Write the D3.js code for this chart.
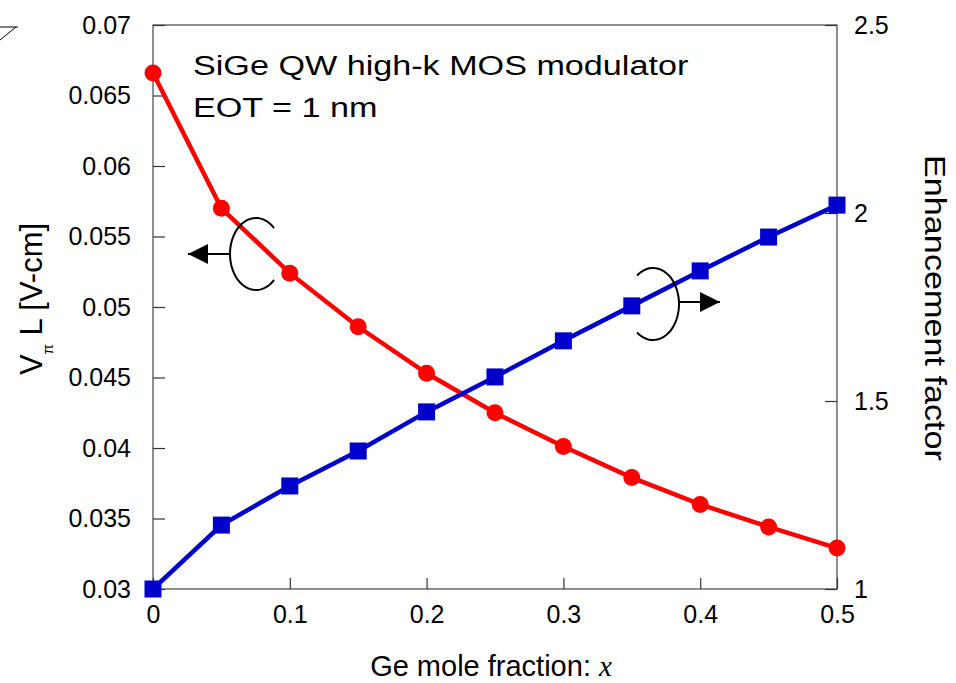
<!DOCTYPE html>
<html>
<head>
<meta charset="utf-8">
<script src="https://cdn.jsdelivr.net/npm/d3@7"></script>
<style>
  body { margin: 0; background: #fff; }
  text { font-family: "Liberation Sans", Arial, sans-serif; fill: #000; }
</style>
</head>
<body>
<div id="chart"></div>
<script>
// data
var geFraction = [0, 0.05, 0.1, 0.15, 0.2, 0.25, 0.3, 0.35, 0.4, 0.45, 0.5];
var vpiL = [0.0666, 0.0570, 0.0524, 0.0486, 0.0453, 0.0425, 0.0401, 0.0379, 0.0360, 0.0344, 0.0329];
var enhancement = [1.0, 1.17, 1.274, 1.367, 1.471, 1.564, 1.660, 1.753, 1.846, 1.936, 2.021];
var xTicks = [0, 0.1, 0.2, 0.3, 0.4, 0.5];
var yLeftTicks = [0.03, 0.035, 0.04, 0.045, 0.05, 0.055, 0.06, 0.065, 0.07];
var yRightTicks = [1, 1.5, 2, 2.5];

var W = 956, H = 683;
var margin = {top: 25, right: 119, bottom: 94, left: 153};
var width = W - margin.left - margin.right,
    height = H - margin.top - margin.bottom;

var svg = d3.select("#chart").append("svg")
    .attr("width", W).attr("height", H);

var x = d3.scaleLinear().domain([0, 0.5]).range([0, width]);
var yL = d3.scaleLinear().domain([0.03, 0.07]).range([height, 0]);
var yR = d3.scaleLinear().domain([1, 2.5]).range([height, 0]);

var g = svg.append("g")
    .attr("transform", "translate(" + margin.left + "," + margin.top + ")");

// frame
g.append("rect")
    .attr("width", width).attr("height", height)
    .attr("fill", "none").attr("stroke", "#444").attr("stroke-width", 1.2);

var fmt = function(d) { return String(+d.toFixed(3)); };

var xAxis = d3.axisBottom(x).tickValues(xTicks).tickSize(-11).tickPadding(16).tickFormat(fmt);
var yAxisL = d3.axisLeft(yL).tickValues(yLeftTicks).tickSize(-12).tickPadding(22).tickFormat(fmt);
var yAxisR = d3.axisRight(yR).tickValues(yRightTicks).tickSize(-12).tickPadding(17).tickFormat(fmt);

function styleAxis(sel) {
  sel.select(".domain").remove();
  sel.selectAll(".tick line").attr("stroke", "#333").attr("stroke-width", 1.2);
  sel.selectAll(".tick text").style("font-size", "25px").attr("fill", "#000");
}

g.append("g").attr("transform", "translate(0," + height + ")").call(xAxis).call(styleAxis);
g.append("g").call(yAxisL).call(styleAxis);
g.append("g").attr("transform", "translate(" + width + ",0)").call(yAxisR).call(styleAxis);

// red series (left axis)
var redLine = d3.line().x(function(d, i) { return x(geFraction[i]); }).y(function(d) { return yL(d); });
g.append("path").datum(vpiL)
    .attr("d", redLine).attr("fill", "none").attr("stroke", "#ff0000").attr("stroke-width", 4.5);
g.selectAll(".red").data(vpiL).enter().append("circle")
    .attr("cx", function(d, i) { return x(geFraction[i]); })
    .attr("cy", function(d) { return yL(d); })
    .attr("r", 8.5).attr("fill", "#ff0000");

// blue series (right axis)
var blueLine = d3.line().x(function(d, i) { return x(geFraction[i]); }).y(function(d) { return yR(d); });
g.append("path").datum(enhancement)
    .attr("d", blueLine).attr("fill", "none").attr("stroke", "#0000cc").attr("stroke-width", 4.5);
g.selectAll(".blue").data(enhancement).enter().append("rect")
    .attr("x", function(d, i) { return x(geFraction[i]) - 8.5; })
    .attr("y", function(d) { return yR(d) - 8.5; })
    .attr("width", 17).attr("height", 17).attr("fill", "#0000cc");

// annotation arrows
svg.append("defs").append("marker")
    .attr("id", "head").attr("viewBox", "0 0 10 10")
    .attr("refX", 10).attr("refY", 5)
    .attr("markerWidth", 20).attr("markerHeight", 20).attr("markerUnits", "userSpaceOnUse")
    .attr("orient", "auto")
  .append("path").attr("d", "M0,0L10,5L0,10Z").attr("fill", "#000");

function ellipseArc(cx, cy, rx, ry, a0, a1) {
  var pts = d3.range(0, 61).map(function(k) {
    var a = a0 + (a1 - a0) * k / 60;
    return [cx + rx * Math.cos(a), cy + ry * Math.sin(a)];
  });
  return d3.line()(pts);
}

// left pointer
svg.append("path").attr("d", ellipseArc(256, 254, 26, 36, -0.256 * Math.PI, -1.744 * Math.PI))
    .attr("fill", "none").attr("stroke", "#000").attr("stroke-width", 2);
svg.append("line").attr("x1", 230).attr("y1", 254).attr("x2", 188).attr("y2", 254)
    .attr("stroke", "#000").attr("stroke-width", 2).attr("marker-end", "url(#head)");

// right pointer
svg.append("path").attr("d", ellipseArc(653, 304, 26, 36, -0.71 * Math.PI, 0.71 * Math.PI))
    .attr("fill", "none").attr("stroke", "#000").attr("stroke-width", 2);
svg.append("line").attr("x1", 679).attr("y1", 302).attr("x2", 720).attr("y2", 302)
    .attr("stroke", "#000").attr("stroke-width", 2).attr("marker-end", "url(#head)");

// stray mark at the top left corner
svg.append("path").attr("d", "M0,27L18,27M0,40L16,27")
    .attr("fill", "none").attr("stroke", "#000").attr("stroke-width", 1);

// title text (wide lettering in the reference)
svg.append("text").attr("transform", "translate(193,75) scale(1.22,1)").style("font-size", "28px")
    .text("SiGe QW high-k MOS modulator");
svg.append("text").attr("transform", "translate(193,117) scale(1.22,1)").style("font-size", "28px")
    .text("EOT = 1 nm");

// axis labels
var yl = svg.append("text")
    .attr("transform", "translate(42,299) rotate(-90)")
    .attr("text-anchor", "middle").style("font-size", "31px");
yl.append("tspan").text("V");
yl.append("tspan").attr("dy", 11).style("font-size", "15px").text("π");
yl.append("tspan").attr("dy", -11).text(" L [V-cm]");

svg.append("text")
    .attr("transform", "translate(925,308) rotate(90) scale(1.14,1)")
    .attr("text-anchor", "middle").style("font-size", "30px")
    .text("Enhancement factor");

var xl = svg.append("text").attr("x", 491).attr("y", 676)
    .attr("text-anchor", "middle").style("font-size", "29px");
xl.append("tspan").text("Ge mole fraction: ");
xl.append("tspan").style("font-family", "'Liberation Serif', 'Times New Roman', serif")
    .style("font-style", "italic").text("x");
</script>
</body>
</html>
